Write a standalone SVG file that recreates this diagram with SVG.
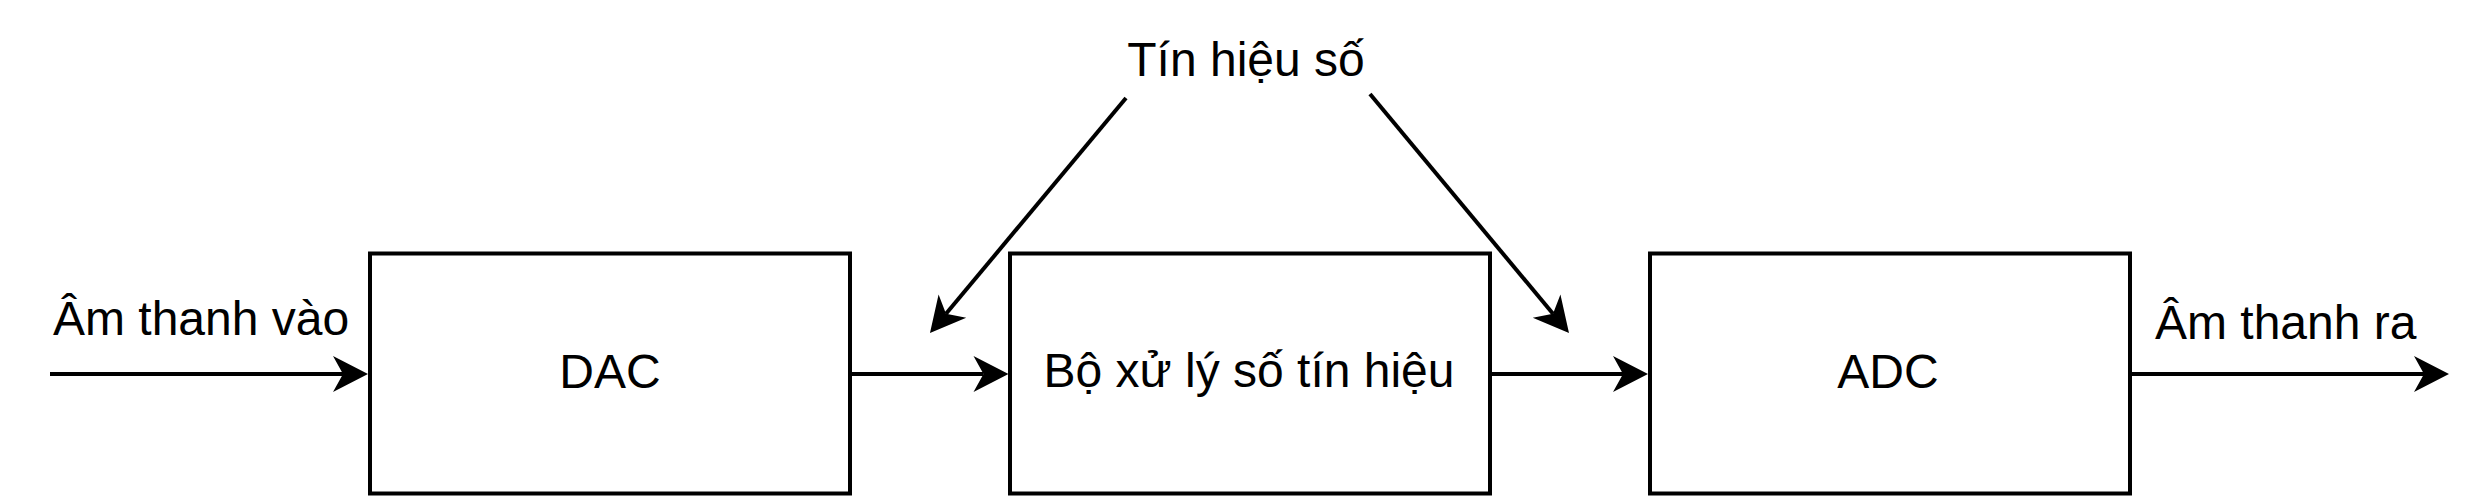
<svg xmlns="http://www.w3.org/2000/svg" width="2484" height="496" viewBox="0 0 2484 496">
<style>
.box{fill:#ffffff;stroke:#000000;stroke-width:4}
.edge{fill:none;stroke:#000000;stroke-width:4}
.t{font-family:"Liberation Sans",Arial,Helvetica,sans-serif;font-size:48px;fill:#000000}
.m{text-anchor:middle}
</style>
<defs>
<marker id="arr" markerUnits="userSpaceOnUse" markerWidth="36" markerHeight="36" viewBox="0 0 36 36" refX="10" refY="18" orient="auto" overflow="visible">
<path d="M0,0 L35,18 L0,36 L10,18 Z" fill="#000000"/>
</marker>
</defs>
<rect width="2484" height="496" fill="#ffffff"/>
<g id="dac">
<rect class="box" x="370" y="253.5" width="480" height="240"/>
<text class="t m" x="610" y="388">DAC</text>
</g>
<g id="dsp">
<rect class="box" x="1010" y="253.5" width="480" height="240"/>
<text class="t m" x="1249" y="387">Bộ xử lý số tín hiệu</text>
</g>
<g id="adc">
<rect class="box" x="1650" y="253.5" width="480" height="240"/>
<text class="t m" x="1888" y="388">ADC</text>
</g>
<g id="digital-label">
<text class="t m" x="1246" y="76">Tín hiệu số</text>
</g>
<g id="connectors">
<line class="edge" x1="50" y1="374" x2="343" y2="374" marker-end="url(#arr)"/>
<line class="edge" x1="850" y1="374" x2="983.5" y2="374" marker-end="url(#arr)"/>
<line class="edge" x1="1490" y1="374" x2="1623" y2="374" marker-end="url(#arr)"/>
<line class="edge" x1="2130" y1="374" x2="2424" y2="374" marker-end="url(#arr)"/>
<line class="edge" x1="1126" y1="98" x2="946" y2="313.8" marker-end="url(#arr)"/>
<line class="edge" x1="1370" y1="94" x2="1553" y2="313.8" marker-end="url(#arr)"/>
<text class="t" x="53" y="335">Âm thanh vào</text>
<text class="t" x="2155" y="339">Âm thanh ra</text>
</g>
</svg>
